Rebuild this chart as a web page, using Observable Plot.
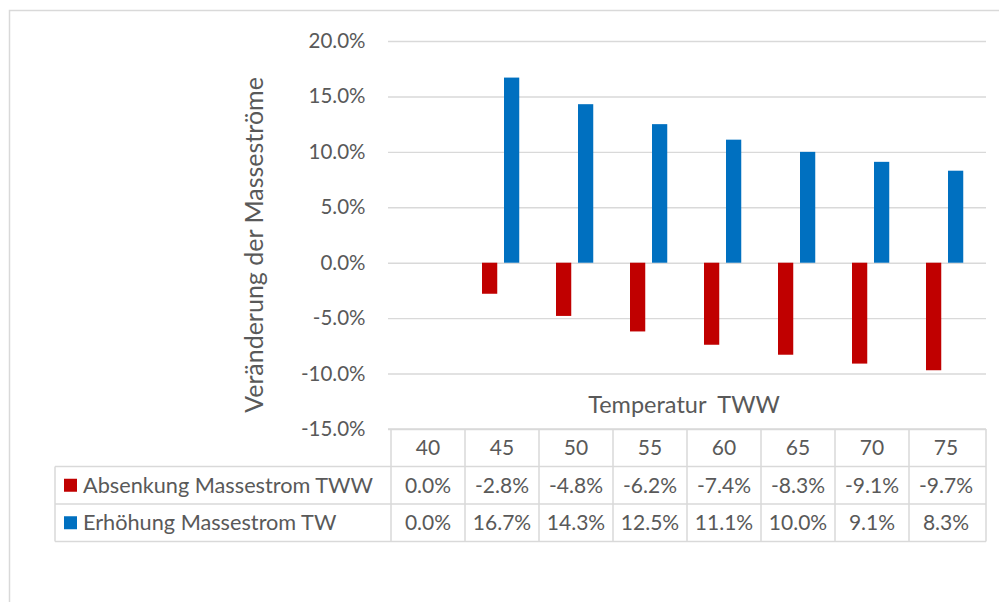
<!DOCTYPE html>
<html>
<head>
<meta charset="utf-8">
<script src="https://cdn.jsdelivr.net/npm/d3@7"></script>
<script src="https://cdn.jsdelivr.net/npm/@observablehq/plot@0.6"></script>
<style>
  html, body { margin: 0; padding: 0; background: #fff; }
  #chart { position: relative; width: 999px; height: 602px; overflow: hidden; }
  svg { font-family: Lato, "Open Sans", sans-serif; }
</style>
</head>
<body>
<div id="chart"></div>
<script>
// ---- data ----
const temperatures = ["40", "45", "50", "55", "60", "65", "70", "75"];
const absenkung = [0.0, -0.028, -0.048, -0.062, -0.074, -0.083, -0.091, -0.097];
const erhoehung = [0.0, 0.167, 0.143, 0.125, 0.111, 0.100, 0.091, 0.083];
const seriesNames = ["Absenkung Massestrom TWW", "Erhöhung Massestrom TW"];
const seriesColors = ["#C00000", "#0070C0"];
const yTicks = [-0.15, -0.10, -0.05, 0, 0.05, 0.10, 0.15, 0.20];
const yTitle = "Veränderung der Masseströme";
const xTitle = "Temperatur\u00A0\u00A0TWW";

const fmt = v => (v * 100).toFixed(1) + "%";

const redData = temperatures.map((t, i) => ({t, v: absenkung[i]}));
const blueData = temperatures.map((t, i) => ({t, v: erhoehung[i]}));

const W = 999, H = 602;
const mTop = 41, mBottom = 173, mLeft = 388, mRight = 13;
const step = (W - mLeft - mRight) / temperatures.length;
const barW = 16, gap = 6;
const leftPad = 17;
const rightPad = step - leftPad - 2 * barW - gap;

const textColor = "#595959";
const gridColor = "#d9d9d9";

const chart = Plot.plot({
  width: W,
  height: H,
  marginTop: mTop,
  marginBottom: mBottom,
  marginLeft: mLeft,
  marginRight: mRight,
  style: {fontFamily: "Lato, 'Open Sans', sans-serif", color: textColor, background: "#fff"},
  x: {type: "band", domain: temperatures, padding: 0, axis: null},
  y: {domain: [-0.15, 0.20], ticks: yTicks, tickFormat: fmt, label: null},
  marks: [
    Plot.gridY(yTicks, {stroke: gridColor, strokeOpacity: 1, strokeWidth: 1.4}),
    Plot.axisY(yTicks, {tickSize: 0, tickPadding: 23, tickFormat: fmt, fontSize: 20.5, fill: textColor, label: null}),
    Plot.barY(redData.filter(d => d.v !== 0), {x: "t", y: "v", fill: seriesColors[0], insetLeft: leftPad, insetRight: rightPad + barW + gap}),
    Plot.barY(blueData.filter(d => d.v !== 0), {x: "t", y: "v", fill: seriesColors[1], insetLeft: leftPad + barW + gap, insetRight: rightPad})
  ]
});

document.getElementById("chart").appendChild(chart);

// ---- decorations & data table, positioned with the Plot scales ----
const svg = d3.select(chart);
const xs = chart.scale("x");
const ys = chart.scale("y");
const colLeft = t => xs.apply(t);
const colCenter = t => xs.apply(t) + xs.bandwidth / 2;
const tableLeft = mLeft;
const tableRight = W - mRight;
const rowTop = [ys.apply(-0.15), 0, 0, 0];
const rowH = 37.5;
for (let i = 1; i < 4; i++) rowTop[i] = rowTop[0] + i * rowH;
const legendLeft = 55;

// outer chart border
svg.append("rect").attr("x", 9.5).attr("y", 10.5).attr("width", 1200).attr("height", 1200)
  .attr("fill", "none").attr("stroke", gridColor).attr("stroke-width", 1.5);

// y title
svg.append("text").attr("transform", `translate(263,245) rotate(-90)`)
  .attr("text-anchor", "middle").attr("fill", textColor).attr("font-size", 25).text(yTitle);

// x title
svg.append("text").attr("x", 684).attr("y", 413)
  .attr("text-anchor", "middle").attr("fill", textColor).attr("font-size", 23.5).text(xTitle);

const g = svg.append("g").attr("stroke", gridColor).attr("stroke-width", 1.5);
// horizontal lines
g.append("line").attr("x1", tableLeft).attr("x2", tableRight).attr("y1", rowTop[0]).attr("y2", rowTop[0]);
for (let i = 1; i < 4; i++) {
  g.append("line").attr("x1", legendLeft).attr("x2", tableRight).attr("y1", rowTop[i]).attr("y2", rowTop[i]);
}
// vertical lines
temperatures.forEach(t => {
  g.append("line").attr("x1", colLeft(t)).attr("x2", colLeft(t)).attr("y1", rowTop[0]).attr("y2", rowTop[3]);
});
g.append("line").attr("x1", tableRight).attr("x2", tableRight).attr("y1", rowTop[0]).attr("y2", rowTop[3]);
g.append("line").attr("x1", legendLeft).attr("x2", legendLeft).attr("y1", rowTop[1]).attr("y2", rowTop[3]);

const tg = svg.append("g").attr("fill", textColor).attr("font-size", 21).attr("text-anchor", "middle");
const rows = [temperatures, absenkung.map(fmt), erhoehung.map(fmt)];
rows.forEach((row, r) => {
  row.forEach((val, i) => {
    tg.append("text").attr("x", colCenter(temperatures[i])).attr("y", rowTop[r] + rowH / 2)
      .attr("dy", "0.35em").text(val);
  });
});

// legend column
seriesNames.forEach((name, i) => {
  const cy = rowTop[i + 1] + rowH / 2;
  svg.append("rect").attr("x", 64).attr("y", cy - 6.5).attr("width", 13).attr("height", 13).attr("fill", seriesColors[i]);
  svg.append("text").attr("x", 83).attr("y", cy).attr("dy", "0.35em").attr("fill", textColor)
    .attr("text-anchor", "start").attr("font-size", 21.7).text(name);
});
</script>
</body>
</html>
